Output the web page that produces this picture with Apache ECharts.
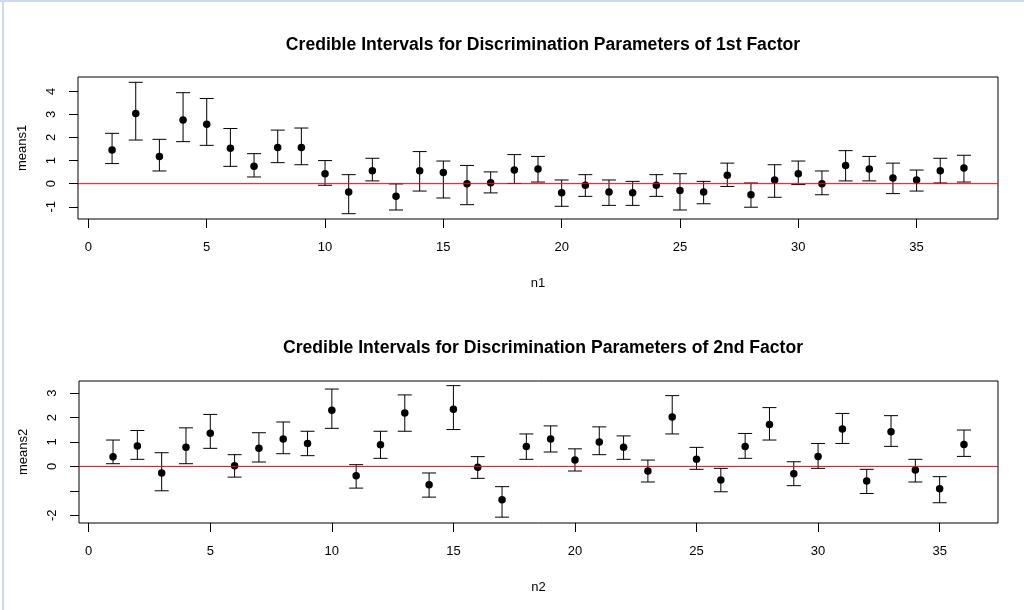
<!DOCTYPE html>
<html>
<head>
<meta charset="utf-8">
<script src="https://cdn.jsdelivr.net/npm/echarts@6/dist/echarts.min.js"></script>
<style>
html,body{margin:0;padding:0;background:#fff;}
#chart{width:1024px;height:610px;}
</style>
</head>
<body>
<div id="chart"></div>
<script>
// ---- Data ----
const n1 = [1,2,3,4,5,6,7,8,9,10,11,12,13,14,15,16,17,18,19,20,21,22,23,24,25,26,27,28,29,30,31,32,33,34,35,36,37];
const means1 = [1.46,3.04,1.18,2.76,2.57,1.53,0.75,1.57,1.57,0.43,-0.36,0.56,-0.55,0.56,0.48,0.00,0.04,0.59,0.64,-0.39,-0.07,-0.36,-0.39,-0.07,-0.30,-0.36,0.36,-0.48,0.16,0.43,0.00,0.79,0.64,0.25,0.16,0.56,0.68];
const lower1 = [0.87,1.89,0.55,1.82,1.66,0.75,0.29,0.91,0.82,-0.07,-1.30,0.12,-1.14,-0.32,-0.62,-0.91,-0.40,0.01,0.07,-0.98,-0.55,-0.94,-0.94,-0.55,-1.14,-0.87,-0.12,-1.02,-0.59,-0.04,-0.48,0.12,0.12,-0.43,-0.32,0.03,0.07];
const upper1 = [2.18,4.39,1.92,3.94,3.69,2.39,1.30,2.32,2.41,1.00,0.39,1.10,-0.01,1.39,0.98,0.79,0.51,1.26,1.18,0.16,0.39,0.16,0.10,0.39,0.43,0.10,0.89,0.03,0.82,0.98,0.55,1.43,1.18,0.89,0.59,1.10,1.23];

const n2 = [1,2,3,4,5,6,7,8,9,10,11,12,13,14,15,16,17,18,19,20,21,22,23,24,25,26,27,28,29,30,31,32,33,34,35,36];
const means2 = [0.40,0.84,-0.27,0.78,1.36,0.03,0.74,1.12,0.94,2.30,-0.38,0.89,2.19,-0.75,2.34,-0.04,-1.37,0.82,1.12,0.26,1.00,0.78,-0.19,2.02,0.29,-0.56,0.82,1.72,-0.30,0.41,1.53,-0.60,1.42,-0.15,-0.92,0.90];
const lower2 = [0.11,0.29,-1.00,0.11,0.74,-0.44,0.18,0.52,0.44,1.56,-0.89,0.33,1.44,-1.26,1.51,-0.49,-2.08,0.29,0.59,-0.19,0.48,0.29,-0.64,1.33,-0.12,-1.04,0.33,1.08,-0.79,-0.08,0.94,-1.11,0.82,-0.64,-1.49,0.41];
const upper2 = [1.08,1.47,0.56,1.58,2.13,0.48,1.38,1.82,1.44,3.17,0.07,1.44,2.93,-0.27,3.31,0.40,-0.83,1.33,1.66,0.72,1.62,1.25,0.26,2.90,0.78,-0.08,1.35,2.41,0.19,0.94,2.17,-0.12,2.08,0.29,-0.42,1.49];

const xTicks = [0,5,10,15,20,25,30,35];
const y1Ticks = [-1,0,1,2,3,4];
const y2Ticks = [-2,-1,0,1,2,3];
const y2TickLabels = [-2,0,1,2,3];

// axis limits (R's 4% extension of the data range)
const x1Range = [-0.44, 38.44];
const y1Range = [-1.53, 4.62];
const x2Range = [-0.4, 37.4];
const y2Range = [-2.32, 3.50];
const refLevel = 0;

const title1 = 'Credible Intervals for Discrimination Parameters of 1st Factor';
const title2 = 'Credible Intervals for Discrimination Parameters of 2nd Factor';

// ---- Chart ----
const FONT = "'Liberation Sans', Arial, sans-serif";
const chart = echarts.init(document.getElementById('chart'), null, {renderer:'canvas'});

function errRender(params, api) {
  const x = api.value(0), lo = api.value(1), hi = api.value(2);
  const a = api.coord([x, lo]), b = api.coord([x, hi]);
  const hw = 7;
  const st = {stroke:'#000', lineWidth:1};
  return {type:'group', children:[
    {type:'line', shape:{x1:a[0], y1:a[1], x2:b[0], y2:b[1]}, style:st},
    {type:'line', shape:{x1:a[0]-hw, y1:a[1], x2:a[0]+hw, y2:a[1]}, style:st},
    {type:'line', shape:{x1:b[0]-hw, y1:b[1], x2:b[0]+hw, y2:b[1]}, style:st}
  ]};
}

function xAxisCfg(gi, name, range) {
  return {
    type:'value', gridIndex:gi, min:range[0], max:range[1], position:'bottom',
    name:name, nameLocation:'middle', nameGap:58,
    nameTextStyle:{color:'#000', fontSize:13, fontFamily:FONT},
    axisLine:{show:false, onZero:false},
    axisTick:{show:true, length:9, inside:false, customValues:xTicks, lineStyle:{color:'#000'}},
    axisLabel:{show:true, customValues:xTicks, margin:22, color:'#000', fontSize:13, fontFamily:FONT},
    splitLine:{show:false}
  };
}
function yAxisCfg(gi, name, range, ticks, labels) {
  return {
    type:'value', gridIndex:gi, min:range[0], max:range[1], position:'left',
    name:name, nameLocation:'middle', nameGap:49,
    nameTextStyle:{color:'#000', fontSize:13, fontFamily:FONT},
    axisLine:{show:false, onZero:false},
    axisTick:{show:true, length:9, inside:false, customValues:ticks, lineStyle:{color:'#000'}},
    axisLabel:{show:true, customValues:labels, rotate:90, margin:20, color:'#000', fontSize:13, fontFamily:FONT},
    splitLine:{show:false}
  };
}

function refLine(gi, xr) {
  return {
    type:'line', xAxisIndex:gi, yAxisIndex:gi, z:4, silent:true,
    showSymbol:false, symbol:'none',
    lineStyle:{color:'#ff0000', width:1},
    itemStyle:{color:'#ff0000'},
    data:[[xr[0], refLevel], [xr[1], refLevel]]
  };
}

function pointSeries(gi, xs, ys) {
  return {
    type:'scatter', xAxisIndex:gi, yAxisIndex:gi, symbol:'circle', symbolSize:7.5, z:3,
    itemStyle:{color:'#000', opacity:1}, emphasis:{disabled:true},
    data:xs.map((n,i)=>[n, ys[i]])
  };
}

const option = {
  animation:false,
  backgroundColor:'#ffffff',
  textStyle:{fontFamily:FONT},
  title:[
    {text:title1, left:538, top:31, textAlign:'center',
     textStyle:{fontSize:17.6, fontWeight:'bold', color:'#000', fontFamily:FONT}},
    {text:title2, left:538, top:334, textAlign:'center',
     textStyle:{fontSize:17.6, fontWeight:'bold', color:'#000', fontFamily:FONT}}
  ],
  graphic:[
    {type:'rect', shape:{x:0, y:0, width:1024, height:2}, style:{fill:'#c9daee'}},
    {type:'rect', shape:{x:2, y:0, width:2, height:610}, style:{fill:'#c9daee'}}
  ],
  grid:[
    {left:78, top:77, width:920, height:142, show:true, borderColor:'#000', borderWidth:1, backgroundColor:'transparent'},
    {left:79, top:381, width:919, height:142, show:true, borderColor:'#000', borderWidth:1, backgroundColor:'transparent'}
  ],
  xAxis:[ xAxisCfg(0, 'n1', x1Range), xAxisCfg(1, 'n2', x2Range) ],
  yAxis:[ yAxisCfg(0, 'means1', y1Range, y1Ticks, y1Ticks), yAxisCfg(1, 'means2', y2Range, y2Ticks, y2TickLabels) ],
  series:[
    {type:'custom', xAxisIndex:0, yAxisIndex:0, renderItem:errRender, z:2,
     data:n1.map((n,i)=>[n, lower1[i], upper1[i]]), encode:{x:0, y:[1,2]}},
    pointSeries(0, n1, means1),
    refLine(0, x1Range),
    {type:'custom', xAxisIndex:1, yAxisIndex:1, renderItem:errRender, z:2,
     data:n2.map((n,i)=>[n, lower2[i], upper2[i]]), encode:{x:0, y:[1,2]}},
    pointSeries(1, n2, means2),
    refLine(1, x2Range)
  ]
};
chart.setOption(option);
</script>
</body>
</html>
